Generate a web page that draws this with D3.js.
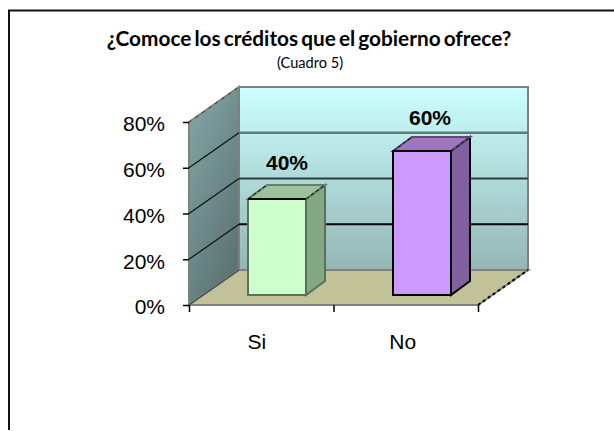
<!DOCTYPE html>
<html><head><meta charset="utf-8">
<script src="https://cdn.jsdelivr.net/npm/d3@7"></script>
<style>html,body{margin:0;padding:0;background:#fff}svg{display:block}</style>
</head><body>
<svg id="c" width="614" height="431"></svg>
<script>
const categories = ["Si", "No"];
const values = [40, 60];
const valueLabels = ["40%", "60%"];
const ticks = [0, 20, 40, 60, 80];
const titleText = "¿Comoce los créditos que el gobierno ofrece?";
const subtitleText = "(Cuadro 5)";
const barFront = ["#ccffcc", "#cc99ff"];
const barTop = ["#9dc09d", "#a076bd"];
const barSide = ["#84a784", "#80609f"];
const barStroke = ["#5c6e5c", "#000000"];
const barTopEdge = ["#6a806a", "#5f4a7a"];

const svg = d3.select("#c");
const defs = svg.append("defs");
const wallGrad = defs.append("linearGradient").attr("id","wall").attr("x1",0).attr("y1",0).attr("x2",0).attr("y2",1);
wallGrad.append("stop").attr("offset",0).attr("stop-color","#ccffff");
wallGrad.append("stop").attr("offset",1).attr("stop-color","#94b5b5");
const sideGrad = defs.append("linearGradient").attr("id","side").attr("x1",0).attr("y1",0).attr("x2",0.6).attr("y2",1);
sideGrad.append("stop").attr("offset",0).attr("stop-color","#85a8a8");
sideGrad.append("stop").attr("offset",1).attr("stop-color","#5d7474");

// chart frame
svg.append("path").attr("d","M9,430V10.5H614").attr("fill","none").attr("stroke","#111").attr("stroke-width",2);

const dx = 50, dy = -35;
const yFront = d3.scaleLinear().domain([0,80]).range([305,122]);
const yBack = v => yFront(v) + dy;
const x = d3.scaleBand().domain(categories).range([189,478]);
const line = d3.line();

// back wall
svg.append("path").attr("d",line([[189+dx,yBack(80)],[478+dx,yBack(80)],[478+dx,yBack(0)],[189+dx,yBack(0)]])+"Z")
  .attr("fill","url(#wall)").attr("stroke","#808080").attr("stroke-width",2);
// side wall
svg.append("path").attr("d",line([[189,yFront(80)],[189+dx,yBack(80)],[189+dx,yBack(0)],[189,yFront(0)]])+"Z")
  .attr("fill","url(#side)").attr("stroke","#808080").attr("stroke-width",2);
// floor
svg.append("path").attr("d",line([[189,yFront(0)],[189+dx,yBack(0)],[478+dx,yBack(0)],[478,yFront(0)]])+"Z")
  .attr("fill","#c2c299").attr("stroke","#808080").attr("stroke-width",2);

// gridlines
const gridColor = {20:"#000", 40:"#2c3c3c", 60:"#5f7c7c"};
[20,40,60].forEach(t=>{
  svg.append("path").attr("d",line([[189+dx,yBack(t)],[478+dx,yBack(t)]]))
    .attr("fill","none").attr("stroke",gridColor[t]).attr("stroke-width",t===60?2.5:2);
  svg.append("path").attr("d",line([[189,yFront(t)],[189+dx,yBack(t)]]))
    .attr("fill","none").attr("stroke","#111").attr("stroke-width",1.2);
});
svg.append("path").attr("d",line([[189,yFront(80)],[189+dx,yBack(80)]])).attr("stroke","#333").attr("stroke-width",1).attr("stroke-dasharray","3 5").attr("fill","none");
svg.append("path").attr("d",line([[189,yFront(0)],[189+dx,yBack(0)]])).attr("stroke","#2a3a3a").attr("stroke-width",1).attr("fill","none");
svg.append("path").attr("d",line([[478,yFront(0)],[478+dx,yBack(0)]])).attr("stroke","#000").attr("stroke-width",2).attr("stroke-dasharray","3 3").attr("fill","none");

const fontS = "Liberation Sans, Arial, sans-serif";
// axes
const axisL = d3.axisLeft(yFront).tickValues(ticks).tickFormat(d=>d+"%").tickSize(6).tickPadding(18);
const gL = svg.append("g").attr("transform","translate(189,0)").call(axisL);
gL.select(".domain").remove();
gL.selectAll("line").attr("stroke","#000").attr("stroke-width",1.5);
gL.selectAll("text").attr("font-family",fontS).attr("font-size",21).attr("fill","#000").attr("dy","0.42em");

const axisB = d3.axisBottom(d3.scaleLinear().domain([0,2]).range([189,478])).tickValues([0,1,2]).tickFormat("").tickSize(7);
const gB = svg.append("g").attr("transform","translate(0,305)").call(axisB);
gB.select(".domain").remove();
gB.selectAll("line").attr("stroke","#000").attr("stroke-width",1.5);
svg.selectAll(".cat").data(categories).join("text").attr("class","cat")
  .attr("x",d=>x(d)+x.bandwidth()/2-(d==="Si"?4.5:3)).attr("y",349).attr("text-anchor","middle")
  .attr("font-family",fontS).attr("font-size",21).attr("fill","#000").text(d=>d);

// bars
const barLeft = [248, 393], barW = 58, bdx = 19, bdy = -14;
const yBar = d3.scaleLinear().domain([0,60]).range([295,151]);
categories.forEach((c,i)=>{
  const l = barLeft[i], r = l+barW, t = yBar(values[i]), b = yBar(0);
  svg.append("path").attr("d",line([[r,t],[r+bdx,t+bdy],[r+bdx,b+bdy],[r,b]])+"Z").attr("fill",barSide[i]).attr("stroke",barStroke[i]).attr("stroke-width",2);
  svg.append("path").attr("d",line([[l,t],[l+bdx,t+bdy],[r+bdx,t+bdy],[r,t]])+"Z").attr("fill",barTop[i]).attr("stroke",barTopEdge[i]).attr("stroke-width",2);
  [l,r].forEach(a=>{
    svg.append("path").attr("d",line([[a,t],[a+bdx,t+bdy]])).attr("stroke","#222").attr("stroke-width",1.2).attr("stroke-dasharray","4 2").attr("fill","none");
  });
  svg.append("rect").attr("x",l).attr("y",t).attr("width",barW).attr("height",b-t).attr("fill",barFront[i]).attr("stroke",barStroke[i]).attr("stroke-width",2);
  svg.append("line").attr("x1",l).attr("x2",r).attr("y1",t).attr("y2",t).attr("stroke","#000").attr("stroke-width",2);
  svg.append("text").attr("x",l+barW/2+(i===0?10:8)).attr("y",t+bdy-(i===0?15:12)).attr("text-anchor","middle")
    .attr("font-family",fontS).attr("font-weight","bold").attr("font-size",21).attr("fill","#000").text(valueLabels[i]);
});

// title
svg.append("text").attr("x",309).attr("y",46).attr("text-anchor","middle").attr("font-family","Lato, sans-serif").attr("font-weight","bold").attr("font-size",20.8).attr("word-spacing","-2").attr("fill","#000").text(titleText);
svg.append("text").attr("x",310).attr("y",68).attr("text-anchor","middle").attr("font-family","Lato, sans-serif").attr("font-size",14.6).attr("fill","#000").text(subtitleText);
</script>
</body></html>
